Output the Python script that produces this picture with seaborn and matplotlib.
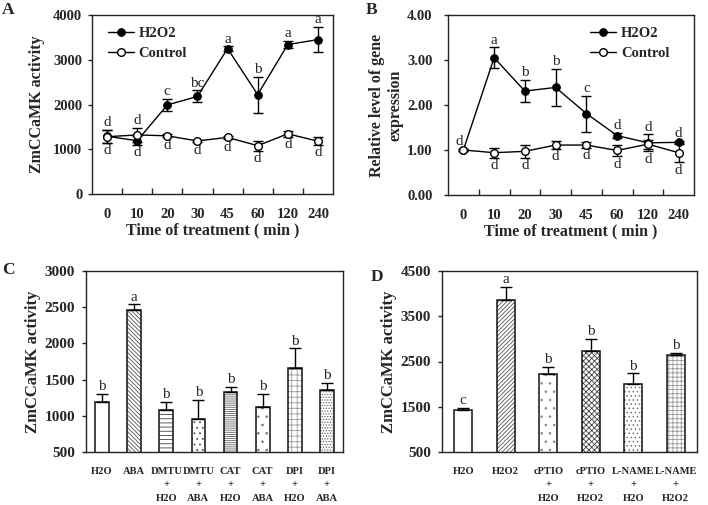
import numpy as np
import pandas as pd
import matplotlib
matplotlib.use("Agg")
import matplotlib.pyplot as plt
from matplotlib.patches import Rectangle
import seaborn as sns

# ---------------- data ----------------
times = ['0', '10', '20', '30', '45', '60', '120', '240']

a_h2o2 = [1290, 1190, 1990, 2180, 3250, 2220, 3340, 3450]
a_h2o2_err = [150, 95, 135, 135, 50, 400, 85, 285]
a_ctrl = [1280, 1320, 1300, 1185, 1265, 1080, 1345, 1180]
a_ctrl_err = [140, 160, 30, 30, 40, 110, 65, 85]
a_h2o2_letters = ['d', 'd', 'c', 'bc', 'a', 'b', 'a', 'a']
a_ctrl_letters = ['d', 'd', 'd', 'd', 'd', 'd', 'd', 'd']

b_h2o2 = [1.00, 3.05, 2.31, 2.39, 1.81, 1.32, 1.16, 1.17]
b_h2o2_err = [0.02, 0.23, 0.25, 0.42, 0.40, 0.06, 0.19, 0.03]
b_ctrl = [1.00, 0.94, 0.97, 1.11, 1.11, 0.99, 1.13, 0.94]
b_ctrl_err = [0.02, 0.11, 0.14, 0.09, 0.06, 0.13, 0.10, 0.21]
b_h2o2_letters = ['d', 'a', 'b', 'b', 'c', 'd', 'd', 'd']
b_ctrl_letters = ['', 'd', 'd', 'd', 'd', 'd', 'd', 'd']

c_groups = ['H2O', 'ABA', 'DMTU\n+\nH2O', 'DMTU\n+\nABA', 'CAT\n+\nH2O',
            'CAT\n+\nABA', 'DPI\n+\nH2O', 'DPI\n+\nABA']
c_vals = [1190, 2457, 1075, 960, 1329, 1126, 1665, 1356]
c_err = [116, 83, 115, 258, 69, 180, 267, 102]
c_letters = ['b', 'a', 'b', 'b', 'b', 'b', 'b', 'b']
c_hatches = ['', '\\\\\\\\\\\\\\\\', '----', '...', '--------', '..', '+++', '......']
c_hatch_colors = ['black', '#555555', '#444444', '#555555', '#666666', '#777777', '#999999', '#666666']

d_groups = ['H2O', 'H2O2', 'cPTIO\n+\nH2O', 'cPTIO\n+\nH2O2',
            'L-NAME\n+\nH2O', 'L-NAME\n+\nH2O2']
d_vals = [1425, 3863, 2214, 2742, 1994, 2647]
d_err = [55, 290, 170, 256, 242, 50]
d_letters = ['c', 'a', 'b', 'b', 'b', 'b']
d_hatches = ['', '////////', '..', 'xxxxxx', '....', '++++']
d_hatch_colors = ['black', '#555555', '#888888', '#444444', '#777777', '#999999']

# ---------------- style ----------------
sns.set_style("ticks")
plt.rcParams['font.family'] = ['Liberation Serif', 'DejaVu Serif']
plt.rcParams['hatch.linewidth'] = 0.6
plt.rcParams['axes.linewidth'] = 1.0

TICK_FS = 10.5
LAB_FS = 11.5
LET_FS = 11
fig = plt.figure(figsize=(7.08, 5.05), dpi=100)

W, H = 708, 505
def add_ax(l, r, t, b):
    return fig.add_axes([l / W, (H - b) / H, (r - l) / W, (b - t) / H])

axA = add_ax(92, 333, 15, 194)
axB = add_ax(448, 694, 15, 195)
axC = add_ax(86, 343, 271, 452)
axD = add_ax(442, 697, 271, 452)


def line_panel(ax, h, he, c, ce, hl, cl, ylim, yticks, fmt, ylabel, legloc, bbox,
               ytpad, ylpad):
    df = pd.DataFrame({'pos': np.arange(len(times)), 'H2O2': h, 'Control': c})
    sns.lineplot(data=df, x='pos', y='H2O2', ax=ax, color='black', lw=1.0,
                 marker='o', markersize=5.5, markerfacecolor='black',
                 markeredgecolor='black', label='H2O2', zorder=3)
    sns.lineplot(data=df, x='pos', y='Control', ax=ax, color='black', lw=1.0,
                 marker='o', markersize=5.5, markerfacecolor='white',
                 markeredgecolor='black', markeredgewidth=1.0, label='Control', zorder=4)
    ax.errorbar(df['pos'], h, yerr=he, fmt='none', ecolor='black', elinewidth=1.0,
                capsize=3.5, capthick=1.0, zorder=2)
    ax.errorbar(df['pos'], c, yerr=ce, fmt='none', ecolor='black', elinewidth=1.0,
                capsize=3.5, capthick=1.0, zorder=2)
    hi = np.maximum(np.add(h, he), np.add(c, ce))
    lo = np.minimum(np.subtract(h, he), np.subtract(c, ce))
    for i, (v, t) in enumerate(zip(hi, hl)):
        if t:
            dx = -3 if i == 0 and ylim[1] < 10 else 0
            ax.annotate(t, (i, v), xytext=(dx, 0.5), textcoords='offset points',
                        ha='center', va='bottom', fontsize=LET_FS)
    for i, (v, t) in enumerate(zip(lo, cl)):
        if t:
            ax.annotate(t, (i, v), xytext=(0, -1), textcoords='offset points',
                        ha='center', va='top', fontsize=LET_FS)
    ax.set_xlim(-0.5, len(times) - 0.5)
    ax.set_ylim(*ylim)
    ax.set_yticks(yticks)
    ax.set_yticklabels([fmt.format(v) for v in yticks], fontsize=TICK_FS, fontweight='bold')
    ax.set_xticks(np.arange(len(times)))
    ax.set_xticklabels(times, fontsize=TICK_FS, fontweight='bold')
    ax.set_xticks(np.arange(len(times) - 1) + 0.5, minor=True)
    ax.tick_params(axis='x', which='major', length=0, pad=10)
    ax.tick_params(axis='x', which='minor', length=4, direction='in', width=1)
    ax.tick_params(axis='y', length=3, direction='out', width=1, pad=ytpad)
    ax.set_xlabel('Time of treatment ( min )', fontsize=LAB_FS, fontweight='bold', labelpad=1)
    ax.set_ylabel(ylabel, fontsize=LAB_FS, fontweight='bold', labelpad=ylpad)
    ax.legend(loc=legloc, bbox_to_anchor=bbox, frameon=False,
              prop={'size': TICK_FS, 'weight': 'bold'}, handlelength=1.8,
              handletextpad=0.3, labelspacing=0.5, borderaxespad=0.2)
    for sp in ax.spines.values():
        sp.set_visible(True)
        sp.set_color('#222222')


line_panel(axA, a_h2o2, a_h2o2_err, a_ctrl, a_ctrl_err, a_h2o2_letters, a_ctrl_letters,
           (0, 4000), [0, 1000, 2000, 3000, 4000], '{:.0f}', 'ZmCCaMK activity',
           'upper left', (0.03, 0.985), 4, 6)
line_panel(axB, b_h2o2, b_h2o2_err, b_ctrl, b_ctrl_err, b_h2o2_letters, b_ctrl_letters,
           (0, 4), [0, 1, 2, 3, 4], '{:.2f}', 'Relative level of gene\nexpression',
           'upper right', (0.935, 0.985), 8, 3)


def bar_panel(ax, groups, vals, err, letters, hatches, hcolors, ylim, yticks):
    df = pd.DataFrame({'g': groups, 'v': vals})
    sns.barplot(data=df, x='g', y='v', ax=ax, color='white', saturation=1,
                edgecolor='black', linewidth=0, width=0.43, errorbar=None, zorder=2)
    bars = list(ax.patches)
    for p, hch, hc in zip(bars, hatches, hcolors):
        p.set_hatch(hch)
        p.set_edgecolor(hc)
        ax.add_patch(Rectangle(p.get_xy(), p.get_width(), p.get_height(), fill=False,
                               edgecolor='#111111', linewidth=1.1, zorder=2.5))
    pos = np.arange(len(groups))
    ax.errorbar(pos, vals, yerr=[np.zeros(len(vals)), err], fmt='none', ecolor='black',
                elinewidth=1.0, capsize=4, capthick=1.0, zorder=3)
    for i, (v, e, t) in enumerate(zip(vals, err, letters)):
        ax.annotate(t, (i, v + e), xytext=(0, 0.5), textcoords='offset points',
                    ha='center', va='bottom', fontsize=LET_FS)
    ax.set_ylim(*ylim)
    ax.set_yticks(yticks)
    ax.set_yticklabels([str(v) for v in yticks], fontsize=TICK_FS + 0.5, fontweight='bold')
    ax.set_xticks(pos)
    ax.set_xticklabels(groups, fontsize=7.6, fontweight='bold', linespacing=1.6)
    ax.tick_params(axis='x', length=0, pad=11)
    ax.tick_params(axis='y', length=3, direction='out', width=1, pad=5)
    ax.set_xlim(-0.5, len(groups) - 0.5)
    ax.set_xlabel('')
    ax.set_ylabel('ZmCCaMK activity', fontsize=LAB_FS + 0.5, fontweight='bold', labelpad=2)
    for sp in ax.spines.values():
        sp.set_visible(True)
        sp.set_color('#222222')


bar_panel(axC, c_groups, c_vals, c_err, c_letters, c_hatches, c_hatch_colors,
          (500, 3000), [500, 1000, 1500, 2000, 2500, 3000])
bar_panel(axD, d_groups, d_vals, d_err, d_letters, d_hatches, d_hatch_colors,
          (500, 4500), [500, 1500, 2500, 3500, 4500])

for lab, x, y in [('A', 2, 2), ('B', 366, 2), ('C', 2, 262), ('D', 371, 269)]:
    fig.text(x / W, 1 - y / H, lab, fontsize=12.5, fontweight='bold', ha='left', va='top')

fig.savefig('out.png', dpi=100)
